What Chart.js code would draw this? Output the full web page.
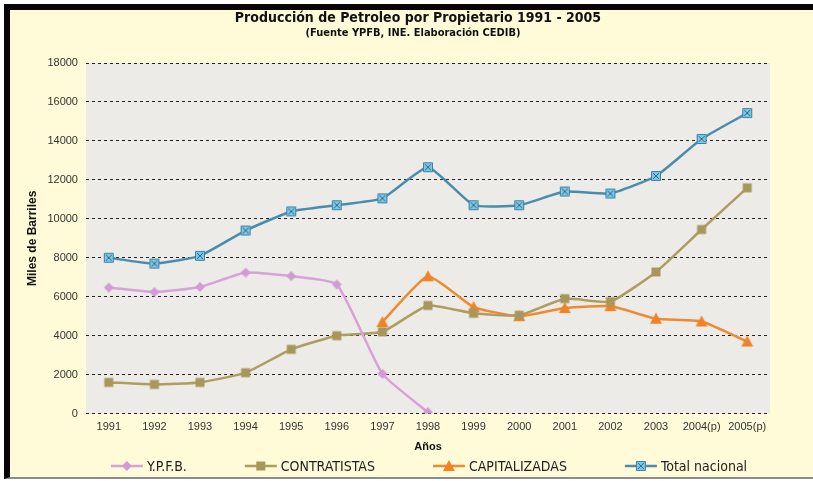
<!DOCTYPE html>
<html>
<head>
<meta charset="utf-8">
<script src="https://cdn.jsdelivr.net/npm/chart.js@4"></script>
<style>
  html, body { margin: 0; padding: 0; background: #fff; }
  .frame {
    position: absolute; left: 4px; top: 4px; width: 803px; height: 467px;
    background: #FFFBD8;
    border-left: 6px solid #0a0505;
    border-top: 6px solid #0a0505;
    border-bottom: 2px solid #8c8c8c;
  }
  #chart { position: absolute; left: 0; top: 0; }
</style>
</head>
<body>
<div class="frame"></div>
<canvas id="chart" width="813" height="481"></canvas>
<script>
// Datos (miles de barriles)
const years = ['1991', '1992', '1993', '1994', '1995', '1996', '1997', '1998',
               '1999', '2000', '2001', '2002', '2003', '2004(p)', '2005(p)'];
const ypfb = [6470, 6240, 6500, 7240, 7060, 6630, 2040, 70,
              null, null, null, null, null, null, null];
const contratistas = [1600, 1500, 1600, 2100, 3300, 4000, 4200, 5550,
                      5150, 5050, 5900, 5750, 7270, 9450, 11590];
const capitalizadas = [null, null, null, null, null, null, 4700, 7050,
                       5470, 5000, 5420, 5520, 4870, 4730, 3700];
const totalNacional = [8000, 7700, 8100, 9400, 10380, 10700, 11050, 12650,
                       10700, 10700, 11400, 11300, 12200, 14100, 15430];
const yMax = 18000;
const yStep = 2000;

const titulo = 'Producción de Petroleo por Propietario 1991 - 2005';
const subtitulo = '(Fuente YPFB, INE. Elaboración CEDIB)';

const narrow = '"DejaVu Sans Condensed", "Liberation Sans Narrow", "Liberation Sans"';

// Dibuja un marcador en un contexto
function drawShape(ctx, shape, cx, cy, fill, stroke) {
    ctx.fillStyle = fill;
    ctx.strokeStyle = stroke;
    ctx.lineWidth = 1;
    ctx.beginPath();
    if (shape === 'diamond') {
        ctx.moveTo(cx, cy - 5); ctx.lineTo(cx + 5, cy); ctx.lineTo(cx, cy + 5); ctx.lineTo(cx - 5, cy);
        ctx.closePath(); ctx.fill();
    } else if (shape === 'square') {
        ctx.rect(cx - 4.5, cy - 4.5, 9, 9); ctx.fill();
    } else if (shape === 'triangle') {
        ctx.moveTo(cx, cy - 6); ctx.lineTo(cx + 6, cy + 5); ctx.lineTo(cx - 6, cy + 5);
        ctx.closePath(); ctx.fill();
    } else if (shape === 'squareX') {
        ctx.rect(cx - 4.5, cy - 4.5, 9, 9); ctx.fill(); ctx.stroke();
        ctx.beginPath();
        ctx.moveTo(cx - 3, cy - 3); ctx.lineTo(cx + 3, cy + 3);
        ctx.moveTo(cx + 3, cy - 3); ctx.lineTo(cx - 3, cy + 3);
        ctx.strokeStyle = '#2c6a8c';
        ctx.stroke();
    }
}

function pointIcon(shape, fill, stroke) {
    const c = document.createElement('canvas');
    c.width = 14; c.height = 14;
    drawShape(c.getContext('2d'), shape, 7, 7, fill, stroke);
    return c;
}

const series = [
    { label: 'Y.P.F.B.', data: ypfb, color: '#D6A2D8', shape: 'diamond', fill: '#D39BD6', stroke: '#D39BD6' },
    { label: 'CONTRATISTAS', data: contratistas, color: '#AD9D5E', shape: 'square', fill: '#A8975A', stroke: '#A8975A' },
    { label: 'CAPITALIZADAS', data: capitalizadas, color: '#F08A2E', shape: 'triangle', fill: '#F08328', stroke: '#F08328' },
    { label: 'Total nacional', data: totalNacional, color: '#4A8CAD', shape: 'squareX', fill: '#7FC6E2', stroke: '#3A84AA' }
];

// Fondo gris del área de trazado
const plotBg = {
    id: 'plotBg',
    beforeDraw(chart) {
        const { ctx, chartArea: a } = chart;
        ctx.save();
        ctx.fillStyle = '#ECEBE7';
        ctx.fillRect(a.left, a.top, a.right - a.left, a.bottom - a.top);
        ctx.restore();
    }
};

// Título y subtítulo centrados como en el original
const header = {
    id: 'header',
    afterDraw(chart) {
        const ctx = chart.ctx;
        ctx.save();
        ctx.fillStyle = '#111';
        ctx.textAlign = 'center';
        ctx.textBaseline = 'middle';
        ctx.font = 'bold 14px ' + narrow;
        ctx.fillText(titulo, 418, 18);
        ctx.font = 'bold 11px ' + narrow;
        ctx.fillText(subtitulo, 413, 33);
        ctx.restore();
    }
};

// Leyenda estilo Excel: línea con marcador y texto, en una fila
const lineLegend = {
    id: 'lineLegend',
    afterDraw(chart) {
        const ctx = chart.ctx;
        const iconW = 32, textGap = 4, itemGap = 58, y = 466;
        ctx.save();
        ctx.font = '14px ' + narrow;
        ctx.textBaseline = 'middle';
        const widths = series.map(s => iconW + textGap + ctx.measureText(s.label).width);
        const total = widths.reduce((a, b) => a + b, 0) + itemGap * (series.length - 1);
        let x = 429 - total / 2;
        series.forEach((s, i) => {
            ctx.strokeStyle = s.color;
            ctx.lineWidth = 2.5;
            ctx.beginPath(); ctx.moveTo(x, y); ctx.lineTo(x + iconW, y); ctx.stroke();
            drawShape(ctx, s.shape, x + iconW / 2, y, s.fill, s.stroke);
            ctx.fillStyle = '#222';
            ctx.fillText(s.label, x + iconW + textGap, y + 1);
            x += widths[i] + itemGap;
        });
        ctx.restore();
    }
};

const ctx = document.getElementById('chart').getContext('2d');
new Chart(ctx, {
    type: 'line',
    data: {
        labels: years,
        datasets: series.map(s => ({
            label: s.label,
            data: s.data,
            borderColor: s.color,
            backgroundColor: s.fill,
            borderWidth: 2.5,
            tension: 0.15,
            pointStyle: pointIcon(s.shape, s.fill, s.stroke),
            spanGaps: false
        }))
    },
    options: {
        responsive: false,
        animation: false,
        layout: { padding: { left: 17, right: 43, top: 63, bottom: 27 } },
        plugins: {
            legend: { display: false },
            tooltip: { enabled: false }
        },
        scales: {
            x: {
                offset: true,
                grid: { display: false, drawTicks: false },
                border: { display: false },
                ticks: {
                    color: '#333',
                    padding: 7,
                    maxRotation: 0,
                    autoSkip: false,
                    font: { family: '"Liberation Sans", Arial', size: 11 }
                },
                title: {
                    display: true,
                    text: 'Años',
                    color: '#111',
                    font: { family: '"Liberation Sans", Arial', size: 11, weight: 'bold' },
                    padding: { top: 0, bottom: 0 }
                }
            },
            y: {
                min: 0,
                max: yMax,
                grid: { color: '#222', lineWidth: 1, drawTicks: false },
                border: { display: false, dash: [3, 3] },
                ticks: {
                    stepSize: yStep,
                    color: '#333',
                    padding: 8,
                    font: { family: '"Liberation Sans", Arial', size: 11 },
                    callback: function(value) { return String(value); }
                },
                title: {
                    display: true,
                    text: 'Miles de Barriles',
                    color: '#111',
                    font: { family: '"Liberation Sans", Arial', size: 12, weight: 'bold' },
                    padding: { top: 8, bottom: 0 }
                }
            }
        }
    },
    plugins: [plotBg, header, lineLegend]
});
</script>
</body>
</html>
